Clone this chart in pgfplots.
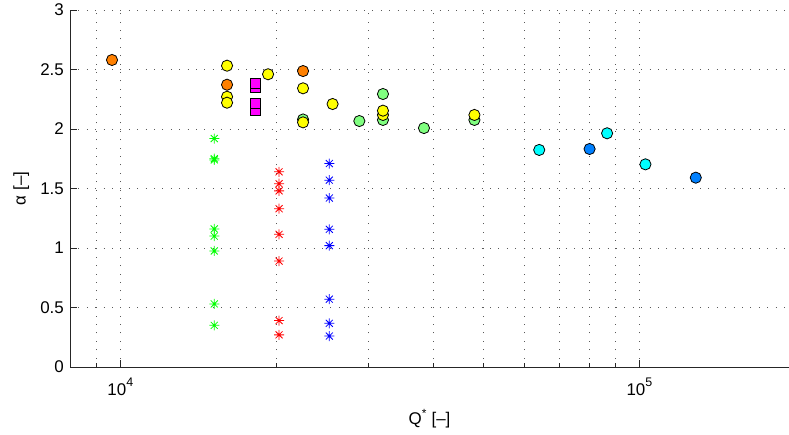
\documentclass[border=0pt]{standalone}
\usepackage{fontspec}
\setmainfont{Liberation Sans}
\usepackage{pgfplots}
\pgfplotsset{compat=1.18}
\pgfdeclareplotmark{mstar}{%
  \pgfpathmoveto{\pgfqpoint{-\pgfplotmarksize}{0pt}}\pgfpathlineto{\pgfqpoint{\pgfplotmarksize}{0pt}}%
  \pgfpathmoveto{\pgfqpoint{0pt}{-\pgfplotmarksize}}\pgfpathlineto{\pgfqpoint{0pt}{\pgfplotmarksize}}%
  \pgfpathmoveto{\pgfqpoint{-0.7\pgfplotmarksize}{-0.7\pgfplotmarksize}}\pgfpathlineto{\pgfqpoint{0.7\pgfplotmarksize}{0.7\pgfplotmarksize}}%
  \pgfpathmoveto{\pgfqpoint{-0.7\pgfplotmarksize}{0.7\pgfplotmarksize}}\pgfpathlineto{\pgfqpoint{0.7\pgfplotmarksize}{-0.7\pgfplotmarksize}}%
  \pgfusepathqstroke}
\definecolor{corange}{rgb}{1,0.5,0}
\definecolor{cyellow}{rgb}{1,1,0}
\definecolor{cgreen}{rgb}{0.5,1,0.5}
\definecolor{ccyan}{rgb}{0,1,1}
\definecolor{cblue}{rgb}{0,0.5,1}
\definecolor{cmag}{rgb}{1,0,1}
\definecolor{sgreen}{rgb}{0,1,0}
\definecolor{sred}{rgb}{1,0,0}
\definecolor{sblue}{rgb}{0,0,1}
\newcommand{\lblfont}{\fontsize{17}{20}\selectfont}
\begin{document}
\begin{tikzpicture}
\begin{axis}[
  xmode=log, scale only axis, width=719bp, height=357bp,
  xmin=8000, xmax=1.942e5, ymin=0, ymax=3,
  axis lines*=left,
  axis line style={black!85, line width=0.8bp},
  tick align=inside, major tick length=7bp, minor tick length=4bp,
  tick style={black!85, line width=0.6bp},
  xtick={1e4,1e5},
  minor xtick={8000,9000,20000,30000,40000,50000,60000,70000,80000,90000},
  xticklabels={{10\raisebox{9bp}{\fontsize{12.5}{12}\selectfont 4}},{10\raisebox{9bp}{\fontsize{12.5}{12}\selectfont 5}}},
  ytick={0,0.5,1,1.5,2,2.5,3},
  yticklabels={0,0.5,1,1.5,2,2.5,3},
  tick label style={font=\lblfont},
  xticklabel style={anchor=base, inner sep=0pt, yshift=-28bp},
  yticklabel style={anchor=east, inner sep=0pt, xshift=-6bp},
  grid=both,
  major grid style={black!65, line width=0.6bp, dash pattern=on 1bp off 7.4bp},
  minor grid style={black!65, line width=0.6bp, dash pattern=on 1bp off 7.4bp},
  every axis plot/.append style={only marks},
]
% stars
\addplot[mark=mstar, mark size=5bp, sgreen, line width=0.8bp] coordinates {
 (15170,1.92) (15170,1.75) (15170,1.74) (15170,1.16) (15170,1.10) (15170,0.975) (15170,0.53) (15170,0.35)};
\addplot[mark=mstar, mark size=5bp, sred, line width=0.8bp] coordinates {
 (20220,1.64) (20220,1.54) (20220,1.48) (20220,1.33) (20220,1.115) (20220,0.89) (20220,0.39) (20220,0.27)};
\addplot[mark=mstar, mark size=5bp, sblue, line width=0.8bp] coordinates {
 (25270,1.71) (25270,1.57) (25270,1.42) (25270,1.157) (25270,1.02) (25270,0.57) (25270,0.367) (25270,0.26)};
% squares
\addplot[mark=square*, mark size=5bp, mark options={draw=black, fill=cmag, line width=0.8bp}] coordinates {
 (18180,2.346) (18180,2.382) (18180,2.155) (18180,2.212)};
% circles
\addplot[mark=*, mark size=5.6bp, mark options={draw=black, fill=cgreen, line width=0.8bp}] coordinates {
 (22490,2.080) (28870,2.067) (32060,2.294) (32060,2.076) (38460,2.008) (48100,2.076)};
\addplot[mark=*, mark size=5.6bp, mark options={draw=black, fill=corange, line width=0.8bp}] coordinates {
 (9638,2.580) (16055,2.372) (22490,2.487)};
\addplot[mark=*, mark size=5.6bp, mark options={draw=black, fill=cyellow, line width=0.8bp}] coordinates {
 (16055,2.532) (16055,2.271) (16055,2.221) (19260,2.460) (22490,2.342) (22490,2.056) (25640,2.210) (32060,2.118) (32060,2.154) (48100,2.118)};
\addplot[mark=*, mark size=5.6bp, mark options={draw=black, fill=ccyan, line width=0.8bp}] coordinates {
 (64120,1.824) (86640,1.964) (102700,1.703)};
\addplot[mark=*, mark size=5.6bp, mark options={draw=black, fill=cblue, line width=0.8bp}] coordinates {
 (80160,1.832) (128400,1.591)};
\end{axis}
\node[rotate=90, anchor=base, font=\lblfont] at ([xshift=-44.5bp]current axis.west) {α [–]};
\node[anchor=base, font=\lblfont] at ([yshift=-57bp]current axis.south) {Q\textsuperscript{*} [–]};
\pgfresetboundingbox
\useasboundingbox ([xshift=-70bp,yshift=-68bp]current axis.south west) rectangle ([yshift=10bp]current axis.north east);
\end{tikzpicture}
\end{document}
